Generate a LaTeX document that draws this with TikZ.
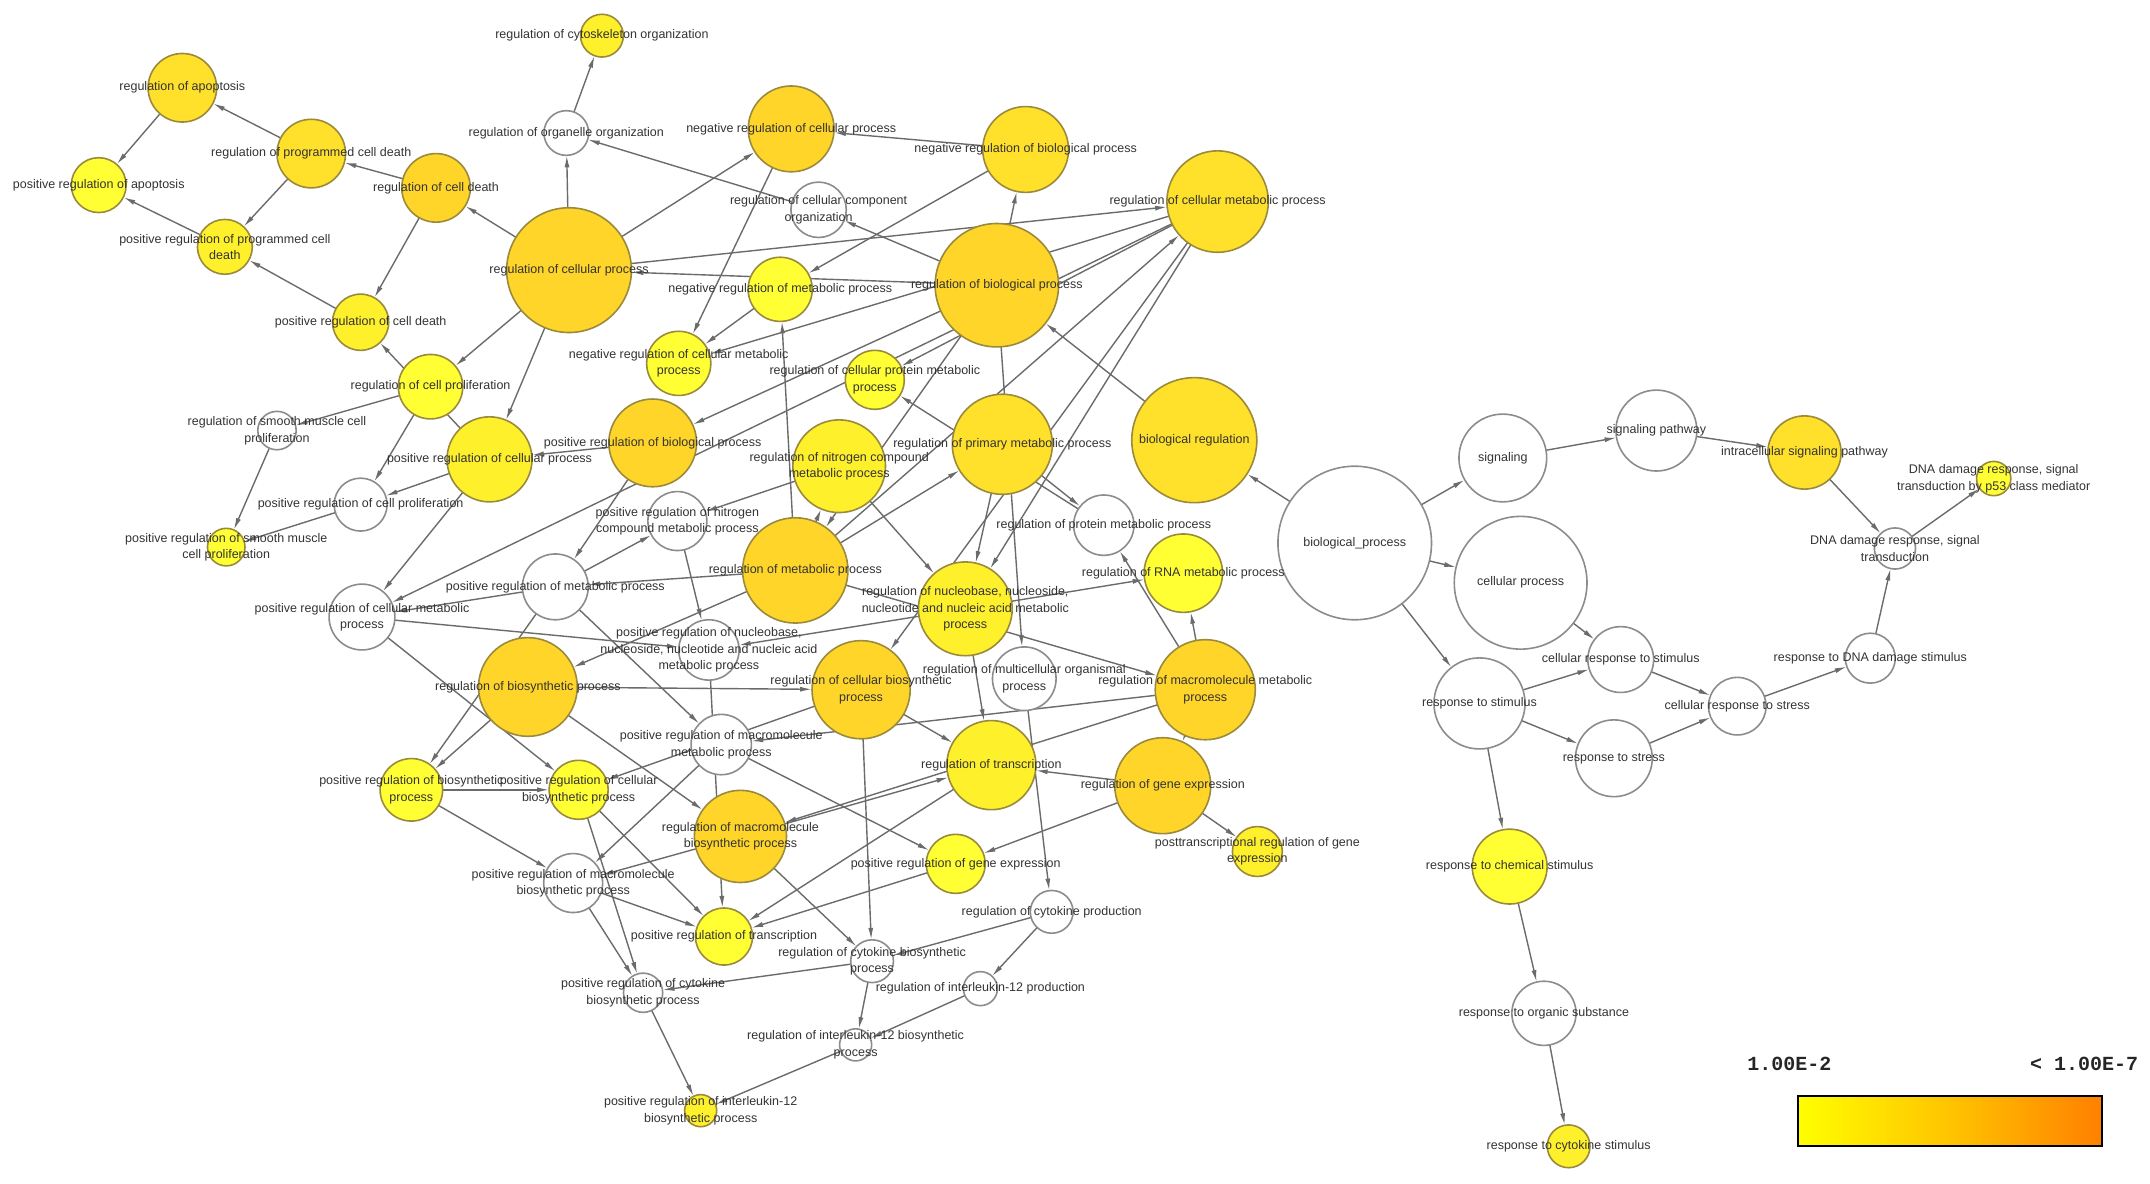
\documentclass[tikz,border=0pt]{standalone}
\usepackage{fontspec}
\setmainfont{Liberation Sans}
\newfontfamily\legendmono{Liberation Mono}
\usepackage{tikz}
\usetikzlibrary{arrows.meta,backgrounds}
\usepackage{xcolor}
\definecolor{pvA}{HTML}{FFFF33}
\definecolor{pvB}{HTML}{FFF02C}
\definecolor{pvC}{HTML}{FFE02A}
\definecolor{pvD}{HTML}{FFD52A}
\definecolor{ink}{HTML}{333333}
\definecolor{wire}{HTML}{6B6B6B}
\definecolor{ringgold}{HTML}{9A8A3C}
\definecolor{ringgray}{HTML}{8C8C8C}
\definecolor{barlow}{HTML}{FFFF00}
\definecolor{barmid}{HTML}{FFC400}
\definecolor{barhigh}{HTML}{FF8000}
\newcommand\gofont{\fontsize{12.5}{16.5}\selectfont}
\tikzset{
  term/.style={circle,draw=ringgold,line width=1.6pt,inner sep=0pt,outer sep=0pt,minimum size=2.7424pt*#1},
  termA/.style={term=#1,fill=pvA},
  termB/.style={term=#1,fill=pvB},
  termC/.style={term=#1,fill=pvC},
  termD/.style={term=#1,fill=pvD},
  termW/.style={term=#1,fill=white,draw=ringgray},
  golabel/.style={font=\gofont,text=ink,align=center,inner sep=0pt},
  goarrow/.style={-{Latex[length=12pt,width=5pt]},line width=1.4pt,draw=wire},
  legendtext/.style={font=\legendmono\bfseries\fontsize{20}{22}\selectfont,text=black!85,inner sep=0pt},
  legendbar/.style={draw=black,line width=2pt,inner sep=0pt,left color=barlow,right color=barhigh,middle color=barmid},
}

\begin{document}
\begin{tikzpicture}[x=1.3712pt,y=-1.3712pt]
\useasboundingbox (0,0) rectangle (1568,863);
\node[termC=25] (apop) at (133,64) {};
\node[termA=20] (posapop) at (72,135) {};
\node[termC=25] (prog) at (227,112) {};
\node[termB=20] (posprog) at (164,180) {};
\node[termD=25] (celldeath) at (318,137) {};
\node[termB=20.5] (poscelldeath) at (263,235) {};
\node[termA=23.5] (prolif) at (314,282) {};
\node[termD=45.5] (cellproc) at (415,197) {};
\node[termW=14] (smooth) at (202,314) {};
\node[termW=19.3] (posprolif) at (263,368) {};
\node[termA=13.7] (possmooth) at (165,399) {};
\node[termB=31] (poscellproc) at (357,335) {};
\node[termD=32] (posbio) at (476,323) {};
\node[termW=16.3] (organelle) at (413,97) {};
\node[termB=15.6] (cyto) at (439,26) {};
\node[termD=31.3] (negcell) at (577,94) {};
\node[termC=31.3] (negbio) at (748,109) {};
\node[termW=20.2] (compo) at (597,153) {};
\node[termD=45] (bioreg) at (727,208) {};
\node[termC=37] (cellmet) at (888,147) {};
\node[termA=23.4] (negmet) at (569,211) {};
\node[termA=23.4] (negcellmet) at (495,265) {};
\node[termA=21.5] (cellprot) at (638,277) {};
\node[termC=45.6] (biolreg) at (871,321) {};
\node[termC=36.5] (primary) at (731,324) {};
\node[termB=33.8] (nitrogen) at (612,340) {};
\node[termW=21.5] (posnitro) at (494,380) {};
\node[termW=22] (protmet) at (805,383) {};
\node[termD=38.4] (metab) at (580,416) {};
\node[termW=24] (posmet) at (405,428) {};
\node[termW=24] (poscellmet) at (264,450) {};
\node[termA=28.6] (rna) at (863,418) {};
\node[termB=34.2] (nucleo) at (704,444) {};
\node[termW=22] (posnucleo) at (517,474) {};
\node[termD=36] (biosyn) at (385,501) {};
\node[termD=35.8] (cellbiosyn) at (628,503) {};
\node[termW=23.2] (multicell) at (747,495) {};
\node[termD=36.5] (macromet) at (879,503) {};
\node[termW=22] (posmacromet) at (526,543) {};
\node[termB=32.5] (transcr) at (723,558) {};
\node[termD=35] (geneexp) at (848,573) {};
\node[termA=22.8] (posbiosyn) at (300,576) {};
\node[termA=21.5] (poscellbiosyn) at (422,576) {};
\node[termD=33.6] (macrobiosyn) at (540,610) {};
\node[termW=21.5] (posmacrobiosyn) at (418,644) {};
\node[termA=21.5] (posgeneexp) at (697,630) {};
\node[termB=18.2] (posttrans) at (917,621) {};
\node[termA=20.8] (postranscr) at (528,683) {};
\node[termW=15.6] (cytoprod) at (767,665) {};
\node[termW=15.6] (cytobiosyn) at (636,701) {};
\node[termW=14.3] (poscytobiosyn) at (469,724) {};
\node[termW=12.4] (il12prod) at (715,721) {};
\node[termW=11.7] (il12biosyn) at (624,762) {};
\node[termB=11.7] (posil12) at (511,810) {};
\node[termW=56] (bp) at (988,396) {};
\node[termW=32] (signaling) at (1096,334) {};
\node[termW=29.5] (sigpath) at (1208,314) {};
\node[termC=26.7] (intra) at (1316,330) {};
\node[termA=12.5] (p53) at (1454,349) {};
\node[termW=15] (dnasig) at (1382,400) {};
\node[termW=48.4] (cellularproc) at (1109,425) {};
\node[termW=24] (cellresp) at (1182,481) {};
\node[termW=18.2] (respdna) at (1364,480) {};
\node[termW=21] (cellstress) at (1267,515) {};
\node[termW=33.2] (respstim) at (1079,513) {};
\node[termW=28] (respstress) at (1177,553) {};
\node[termA=27.3] (chem) at (1101,632) {};
\node[termW=23.4] (organic) at (1126,739) {};
\node[termB=15.6] (cytostim) at (1144,836) {};
\begin{scope}[on background layer]
\draw[goarrow] (prog) -- (apop);
\draw[goarrow] (apop) -- (posapop);
\draw[goarrow] (prog) -- (posprog);
\draw[goarrow] (posprog) -- (posapop);
\draw[goarrow] (celldeath) -- (prog);
\draw[goarrow] (poscelldeath) -- (posprog);
\draw[goarrow] (celldeath) -- (poscelldeath);
\draw[goarrow] (cellproc) -- (celldeath);
\draw[goarrow] (poscellproc) -- (poscelldeath);
\draw[goarrow] (cellproc) -- (prolif);
\draw[goarrow] (cellproc) -- (poscellproc);
\draw[goarrow] (prolif) -- (smooth);
\draw[goarrow] (smooth) -- (possmooth);
\draw[goarrow] (posprolif) -- (possmooth);
\draw[goarrow] (prolif) -- (posprolif);
\draw[goarrow] (poscellproc) -- (posprolif);
\draw[goarrow] (poscellproc) -- (poscellmet);
\draw[goarrow] (posbio) -- (poscellproc);
\draw[goarrow] (posmet) -- (poscellmet);
\draw[goarrow] (cellmet) -- (poscellmet);
\draw[goarrow] (poscellmet) -- (posnucleo);
\draw[goarrow] (poscellmet) -- (poscellbiosyn);
\draw[goarrow] (posmet) -- (posbiosyn);
\draw[goarrow] (biosyn) -- (posbiosyn);
\draw[goarrow] (posbiosyn) -- (poscellbiosyn);
\draw[goarrow] (posbiosyn) -- (posmacrobiosyn);
\draw[goarrow] (cellproc) -- (organelle);
\draw[goarrow] (organelle) -- (cyto);
\draw[goarrow] (compo) -- (organelle);
\draw[goarrow] (bioreg) -- (compo);
\draw[goarrow] (cellproc) -- (negcell);
\draw[goarrow] (negbio) -- (negcell);
\draw[goarrow] (negcell) -- (negcellmet);
\draw[goarrow] (negmet) -- (negcellmet);
\draw[goarrow] (negbio) -- (negmet);
\draw[goarrow] (bioreg) -- (negbio);
\draw[goarrow] (metab) -- (negmet);
\draw[goarrow] (bioreg) -- (cellproc);
\draw[goarrow] (cellproc) -- (cellmet);
\draw[goarrow] (cellmet) -- (negcellmet);
\draw[goarrow] (cellmet) -- (cellprot);
\draw[goarrow] (protmet) -- (cellprot);
\draw[goarrow] (bioreg) -- (metab);
\draw[goarrow] (metab) -- (nitrogen);
\draw[goarrow] (metab) -- (primary);
\draw[goarrow] (metab) -- (macromet);
\draw[goarrow] (metab) -- (biosyn);
\draw[goarrow] (metab) -- (cellmet);
\draw[goarrow] (metab) -- (posmet);
\draw[goarrow] (bioreg) -- (posbio);
\draw[goarrow] (posbio) -- (posmet);
\draw[goarrow] (posmet) -- (posnitro);
\draw[goarrow] (nitrogen) -- (posnitro);
\draw[goarrow] (posnitro) -- (posnucleo);
\draw[goarrow] (posmet) -- (posmacromet);
\draw[goarrow] (nucleo) -- (posnucleo);
\draw[goarrow] (nucleo) -- (rna);
\draw[goarrow] (macromet) -- (rna);
\draw[goarrow] (macromet) -- (protmet);
\draw[goarrow] (primary) -- (protmet);
\draw[goarrow] (primary) -- (nucleo);
\draw[goarrow] (cellmet) -- (nucleo);
\draw[goarrow] (nitrogen) -- (nucleo);
\draw[goarrow] (bioreg) -- (multicell);
\draw[goarrow] (nucleo) -- (transcr);
\draw[goarrow] (cellbiosyn) -- (transcr);
\draw[goarrow] (macrobiosyn) -- (transcr);
\draw[goarrow] (macromet) -- (macrobiosyn);
\draw[goarrow] (geneexp) -- (transcr);
\draw[goarrow] (macromet) -- (geneexp);
\draw[goarrow] (geneexp) -- (posttrans);
\draw[goarrow] (geneexp) -- (posgeneexp);
\draw[goarrow] (posmacromet) -- (posgeneexp);
\draw[goarrow] (posgeneexp) -- (postranscr);
\draw[goarrow] (transcr) -- (postranscr);
\draw[goarrow] (posnucleo) -- (postranscr);
\draw[goarrow] (poscellbiosyn) -- (postranscr);
\draw[goarrow] (posmacrobiosyn) -- (postranscr);
\draw[goarrow] (macrobiosyn) -- (posmacrobiosyn);
\draw[goarrow] (posmacromet) -- (posmacrobiosyn);
\draw[goarrow] (biosyn) -- (macrobiosyn);
\draw[goarrow] (biosyn) -- (cellbiosyn);
\draw[goarrow] (cellmet) -- (cellbiosyn);
\draw[goarrow] (cellbiosyn) -- (poscellbiosyn);
\draw[goarrow] (cellbiosyn) -- (cytobiosyn);
\draw[goarrow] (macrobiosyn) -- (cytobiosyn);
\draw[goarrow] (cytoprod) -- (cytobiosyn);
\draw[goarrow] (multicell) -- (cytoprod);
\draw[goarrow] (cytoprod) -- (il12prod);
\draw[goarrow] (il12prod) -- (il12biosyn);
\draw[goarrow] (cytobiosyn) -- (il12biosyn);
\draw[goarrow] (cytobiosyn) -- (poscytobiosyn);
\draw[goarrow] (posmacrobiosyn) -- (poscytobiosyn);
\draw[goarrow] (poscellbiosyn) -- (poscytobiosyn);
\draw[goarrow] (il12biosyn) -- (posil12);
\draw[goarrow] (poscytobiosyn) -- (posil12);
\draw[goarrow] (macromet) -- (posmacromet);
\draw[goarrow] (biolreg) -- (bioreg);
\draw[goarrow] (bp) -- (biolreg);
\draw[goarrow] (bp) -- (signaling);
\draw[goarrow] (bp) -- (cellularproc);
\draw[goarrow] (bp) -- (respstim);
\draw[goarrow] (signaling) -- (sigpath);
\draw[goarrow] (sigpath) -- (intra);
\draw[goarrow] (intra) -- (dnasig);
\draw[goarrow] (dnasig) -- (p53);
\draw[goarrow] (respdna) -- (dnasig);
\draw[goarrow] (cellstress) -- (respdna);
\draw[goarrow] (cellresp) -- (cellstress);
\draw[goarrow] (respstress) -- (cellstress);
\draw[goarrow] (cellularproc) -- (cellresp);
\draw[goarrow] (respstim) -- (cellresp);
\draw[goarrow] (respstim) -- (respstress);
\draw[goarrow] (respstim) -- (chem);
\draw[goarrow] (chem) -- (organic);
\draw[goarrow] (organic) -- (cytostim);
\end{scope}
\node[golabel] (apop-t) at (apop) {regulation of apoptosis};
\node[golabel] (posapop-t) at (posapop) {positive regulation of apoptosis};
\node[golabel] (prog-t) at (prog) {regulation of programmed cell death};
\node[golabel] (posprog-t) at (posprog) {positive regulation of programmed cell\\death};
\node[golabel] (celldeath-t) at (celldeath) {regulation of cell death};
\node[golabel] (poscelldeath-t) at (poscelldeath) {positive regulation of cell death};
\node[golabel] (prolif-t) at (prolif) {regulation of cell proliferation};
\node[golabel] (cellproc-t) at (cellproc) {regulation of cellular process};
\node[golabel] (smooth-t) at (smooth) {regulation of smooth muscle cell\\proliferation};
\node[golabel] (posprolif-t) at (posprolif) {positive regulation of cell proliferation};
\node[golabel] (possmooth-t) at (possmooth) {positive regulation of smooth muscle\\cell proliferation};
\node[golabel] (poscellproc-t) at (poscellproc) {positive regulation of cellular process};
\node[golabel] (posbio-t) at (posbio) {positive regulation of biological process};
\node[golabel] (organelle-t) at (organelle) {regulation of organelle organization};
\node[golabel] (cyto-t) at (cyto) {regulation of cytoskeleton organization};
\node[golabel] (negcell-t) at (negcell) {negative regulation of cellular process};
\node[golabel] (negbio-t) at (negbio) {negative regulation of biological process};
\node[golabel] (compo-t) at (compo) {regulation of cellular component\\organization};
\node[golabel] (bioreg-t) at (bioreg) {regulation of biological process};
\node[golabel] (cellmet-t) at (cellmet) {regulation of cellular metabolic process};
\node[golabel] (negmet-t) at (negmet) {negative regulation of metabolic process};
\node[golabel] (negcellmet-t) at (negcellmet) {negative regulation of cellular metabolic\\process};
\node[golabel] (cellprot-t) at (cellprot) {regulation of cellular protein metabolic\\process};
\node[golabel] (biolreg-t) at (biolreg) {biological regulation};
\node[golabel] (primary-t) at (primary) {regulation of primary metabolic process};
\node[golabel] (nitrogen-t) at (nitrogen) {regulation of nitrogen compound\\metabolic process};
\node[golabel] (posnitro-t) at (posnitro) {positive regulation of nitrogen\\compound metabolic process};
\node[golabel] (protmet-t) at (protmet) {regulation of protein metabolic process};
\node[golabel] (metab-t) at (metab) {regulation of metabolic process};
\node[golabel] (posmet-t) at (posmet) {positive regulation of metabolic process};
\node[golabel] (poscellmet-t) at (poscellmet) {positive regulation of cellular metabolic\\process};
\node[golabel] (rna-t) at (rna) {regulation of RNA metabolic process};
\node[golabel] (nucleo-t) at (nucleo) {regulation of nucleobase, nucleoside,\\nucleotide and nucleic acid metabolic\\process};
\node[golabel] (posnucleo-t) at (posnucleo) {positive regulation of nucleobase,\\nucleoside, nucleotide and nucleic acid\\metabolic process};
\node[golabel] (biosyn-t) at (biosyn) {regulation of biosynthetic process};
\node[golabel] (cellbiosyn-t) at (cellbiosyn) {regulation of cellular biosynthetic\\process};
\node[golabel] (multicell-t) at (multicell) {regulation of multicellular organismal\\process};
\node[golabel] (macromet-t) at (macromet) {regulation of macromolecule metabolic\\process};
\node[golabel] (posmacromet-t) at (posmacromet) {positive regulation of macromolecule\\metabolic process};
\node[golabel] (transcr-t) at (transcr) {regulation of transcription};
\node[golabel] (geneexp-t) at (geneexp) {regulation of gene expression};
\node[golabel] (posbiosyn-t) at (posbiosyn) {positive regulation of biosynthetic\\process};
\node[golabel] (poscellbiosyn-t) at (poscellbiosyn) {positive regulation of cellular\\biosynthetic process};
\node[golabel] (macrobiosyn-t) at (macrobiosyn) {regulation of macromolecule\\biosynthetic process};
\node[golabel] (posmacrobiosyn-t) at (posmacrobiosyn) {positive regulation of macromolecule\\biosynthetic process};
\node[golabel] (posgeneexp-t) at (posgeneexp) {positive regulation of gene expression};
\node[golabel] (posttrans-t) at (posttrans) {posttranscriptional regulation of gene\\expression};
\node[golabel] (postranscr-t) at (postranscr) {positive regulation of transcription};
\node[golabel] (cytoprod-t) at (cytoprod) {regulation of cytokine production};
\node[golabel] (cytobiosyn-t) at (cytobiosyn) {regulation of cytokine biosynthetic\\process};
\node[golabel] (poscytobiosyn-t) at (poscytobiosyn) {positive regulation of cytokine\\biosynthetic process};
\node[golabel] (il12prod-t) at (il12prod) {regulation of interleukin-12 production};
\node[golabel] (il12biosyn-t) at (il12biosyn) {regulation of interleukin-12 biosynthetic\\process};
\node[golabel] (posil12-t) at (posil12) {positive regulation of interleukin-12\\biosynthetic process};
\node[golabel] (bp-t) at (bp) {biological\_process};
\node[golabel] (signaling-t) at (signaling) {signaling};
\node[golabel] (sigpath-t) at (sigpath) {signaling pathway};
\node[golabel] (intra-t) at (intra) {intracellular signaling pathway};
\node[golabel] (p53-t) at (p53) {DNA damage response, signal\\transduction by p53 class mediator};
\node[golabel] (dnasig-t) at (dnasig) {DNA damage response, signal\\transduction};
\node[golabel] (cellularproc-t) at (cellularproc) {cellular process};
\node[golabel] (cellresp-t) at (cellresp) {cellular response to stimulus};
\node[golabel] (respdna-t) at (respdna) {response to DNA damage stimulus};
\node[golabel] (cellstress-t) at (cellstress) {cellular response to stress};
\node[golabel] (respstim-t) at (respstim) {response to stimulus};
\node[golabel] (respstress-t) at (respstress) {response to stress};
\node[golabel] (chem-t) at (chem) {response to chemical stimulus};
\node[golabel] (organic-t) at (organic) {response to organic substance};
\node[golabel] (cytostim-t) at (cytostim) {response to cytokine stimulus};
\node[legendtext] (pmin) at (1305,776) {1.00E-2};
\node[legendtext] (pmax) at (1520,776) {< 1.00E-7};
\node[legendbar,minimum width=304pt,minimum height=50.7pt] (pbar) at (1422,817.5) {};
\end{tikzpicture}
\end{document}
